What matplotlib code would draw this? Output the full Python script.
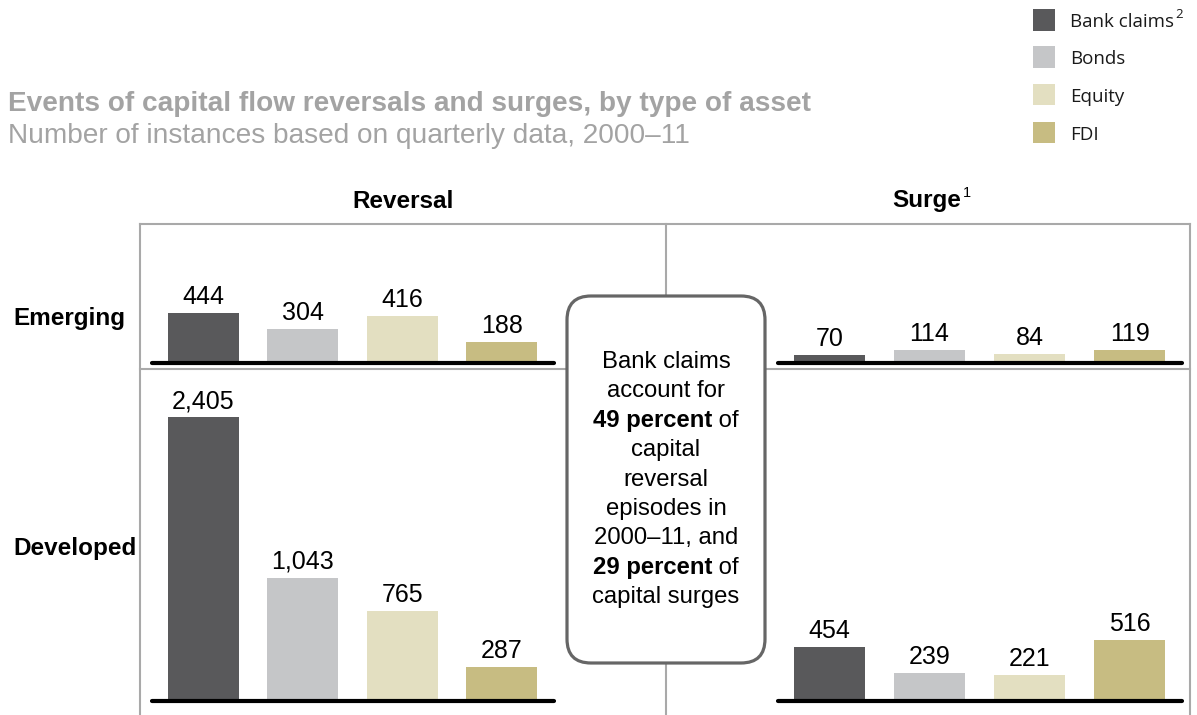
import matplotlib
matplotlib.use("Agg")
import matplotlib.pyplot as plt
from matplotlib.lines import Line2D
from matplotlib.patches import FancyBboxPatch, Rectangle
from matplotlib.transforms import Affine2D

W, H = 1197, 715

# Counts of capital-flow episodes, 2000-11
assets = ["Bank claims", "Bonds", "Equity", "FDI"]
colors = ["#59595b", "#c5c6c8", "#e3dfc1", "#c7bc82"]

reversal_emerging = [444, 304, 416, 188]
reversal_developed = [2405, 1043, 765, 287]
surge_emerging = [70, 114, 84, 119]
surge_developed = [454, 239, 221, 516]

plt.rcParams["font.family"] = ["Liberation Sans", "DejaVu Sans"]

fig = plt.figure(figsize=(W / 100, H / 100), dpi=100)
fig.patch.set_facecolor("white")

# pixel transform: origin top-left, y down
PX = Affine2D().scale(1 / 100, -1 / 100).translate(0, H / 100) + fig.dpi_scale_trans

GRID = "#a9a9a9"
TITLE_GREY = "#a3a3a3"
LEGEND_FONT = ["Open Sans", "DejaVu Sans"]


def panel(x0, x1, base, top, values, px_per_unit):
    ax = fig.add_axes([x0 / W, 1 - base / H, (x1 - x0) / W, (base - top) / H])
    ax.bar(range(len(values)), values, width=0.715, color=colors, zorder=2)
    ax.set_xlim(-0.515, 3.525)
    ax.set_ylim(0, (base - top) / px_per_unit)
    for side in ["left", "right", "top"]:
        ax.spines[side].set_visible(False)
    ax.spines["bottom"].set_linewidth(3)
    ax.spines["bottom"].set_color("black")
    ax.spines["bottom"].set_capstyle("round")
    ax.spines["bottom"].set_zorder(3)
    ax.set_xticks([])
    ax.set_yticks([])
    ax.patch.set_visible(False)
    for i, v in enumerate(values):
        ax.annotate(f"{v:,}", (i, v), xytext=(0, 6.5), textcoords="offset points",
                    ha="center", va="baseline", fontsize=18, color="black")
    return ax


# frame lines
frame = [
    ((140, 1190), (224, 224)),
    ((140, 140), (224, 715)),
    ((1190, 1190), (224, 715)),
    ((666, 666), (224, 715)),
    ((140, 1190), (369, 369)),
]
for xs, ys in frame:
    fig.add_artist(Line2D(xs, ys, transform=PX, color=GRID, lw=1.5, zorder=1))

panel(152, 554, 363, 232, reversal_emerging, 0.112)
panel(152, 554, 701, 375, reversal_developed, 0.118)
panel(778, 1182, 363, 232, surge_emerging, 0.112)
panel(778, 1182, 701, 375, surge_developed, 0.118)

# callout box in the middle
box = FancyBboxPatch((567, 296), 198, 367, boxstyle="round,pad=0,rounding_size=24",
                     transform=PX, facecolor="white", edgecolor="#666666", lw=2.3, zorder=5)
fig.add_artist(box)

renderer = fig.canvas.get_renderer()


def mixed_line(parts, cx, cy, size):
    """Centre a line made of (text, weight) pieces at cx."""
    texts = []
    for s, w in parts:
        t = fig.text(0, 0, s, transform=PX, fontsize=size, fontweight=w,
                     ha="left", va="center", zorder=6)
        texts.append(t)
    widths = [t.get_window_extent(renderer).width for t in texts]
    x = cx - sum(widths) / 2
    for t, wd in zip(texts, widths):
        t.set_position((x, cy))
        x += wd


box_lines = [
    [("Bank claims", "normal")],
    [("account for", "normal")],
    [("49 percent", "bold"), (" of", "normal")],
    [("capital", "normal")],
    [("reversal", "normal")],
    [("episodes in", "normal")],
    [("2000\u201311, and", "normal")],
    [("29 percent", "bold"), (" of", "normal")],
    [("capital surges", "normal")],
]
for k, parts in enumerate(box_lines):
    mixed_line(parts, 666, 362 + 29.4 * k, 17.2)

# row and column headers
fig.text(13, 318, "Emerging", transform=PX, fontsize=17.5, fontweight="bold",
         ha="left", va="center")
fig.text(13, 548, "Developed", transform=PX, fontsize=17.5, fontweight="bold",
         ha="left", va="center")
fig.text(403, 201, "Reversal", transform=PX, fontsize=17.5, fontweight="bold",
         ha="center", va="center")
surge = fig.text(0, 201, "Surge", transform=PX, fontsize=17.5, fontweight="bold",
                 ha="left", va="center")
sw = surge.get_window_extent(renderer).width
surge.set_position((927 - sw / 2, 201))
fig.text(927 + sw / 2 + 1, 193, "1", transform=PX, fontsize=10.5, ha="left", va="center")

# title block
fig.text(8, 104, "Events of capital flow reversals and surges, by type of asset",
         transform=PX, fontsize=20.2, fontweight="bold", color=TITLE_GREY,
         ha="left", va="center")
fig.text(8, 136, "Number of instances based on quarterly data, 2000\u201311",
         transform=PX, fontsize=20.2, color=TITLE_GREY, ha="left", va="center")

# legend
legend_rows = [(9, 31), (46, 68), (84, 105), (122, 143)]
for (y0, y1), name, c in zip(legend_rows, assets, colors):
    fig.add_artist(Rectangle((1033, y0), 22, y1 - y0, transform=PX,
                             facecolor=c, edgecolor="none"))
    t = fig.text(1070, (y0 + y1) / 2 + 2, name, transform=PX, fontsize=13.5,
                 family=LEGEND_FONT, ha="left", va="center", color="#1a1a1a")
    if name == "Bank claims":
        bw = t.get_window_extent(renderer).width
        fig.text(1070 + bw + 1, 15, "2", transform=PX, fontsize=9.5,
                 family=LEGEND_FONT, ha="left", va="center", color="#1a1a1a")

fig.savefig("out.png", dpi=100, facecolor="white")
